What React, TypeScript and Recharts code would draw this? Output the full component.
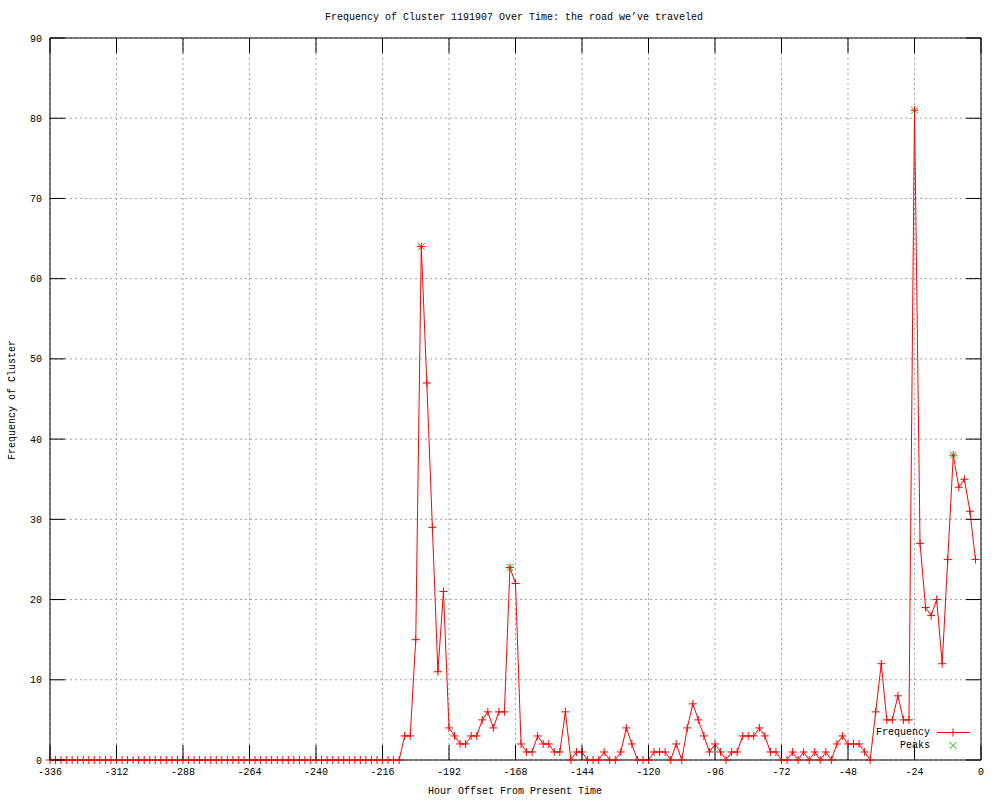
import React from "react";
import {
  ComposedChart,
  Line,
  XAxis,
  YAxis,
  CartesianGrid,
  ReferenceArea,
} from "recharts";

// hour offsets, 2h step, rows of 24h
const HOURS = [
  -336, -334, -332, -330, -328, -326, -324, -322, -320, -318, -316, -314,
  -312, -310, -308, -306, -304, -302, -300, -298, -296, -294, -292, -290,
  -288, -286, -284, -282, -280, -278, -276, -274, -272, -270, -268, -266,
  -264, -262, -260, -258, -256, -254, -252, -250, -248, -246, -244, -242,
  -240, -238, -236, -234, -232, -230, -228, -226, -224, -222, -220, -218,
  -216, -214, -212, -210, -208, -206, -204, -202, -200, -198, -196, -194,
  -192, -190, -188, -186, -184, -182, -180, -178, -176, -174, -172, -170,
  -168, -166, -164, -162, -160, -158, -156, -154, -152, -150, -148, -146,
  -144, -142, -140, -138, -136, -134, -132, -130, -128, -126, -124, -122,
  -120, -118, -116, -114, -112, -110, -108, -106, -104, -102, -100, -98,
  -96, -94, -92, -90, -88, -86, -84, -82, -80, -78, -76, -74,
  -72, -70, -68, -66, -64, -62, -60, -58, -56, -54, -52, -50,
  -48, -46, -44, -42, -40, -38, -36, -34, -32, -30, -28, -26,
  -24, -22, -20, -18, -16, -14, -12, -10, -8, -6, -4, -2,
];

const FREQUENCY = [
  0, 0, 0, 0, 0, 0, 0, 0, 0, 0, 0, 0,
  0, 0, 0, 0, 0, 0, 0, 0, 0, 0, 0, 0,
  0, 0, 0, 0, 0, 0, 0, 0, 0, 0, 0, 0,
  0, 0, 0, 0, 0, 0, 0, 0, 0, 0, 0, 0,
  0, 0, 0, 0, 0, 0, 0, 0, 0, 0, 0, 0,
  0, 0, 0, 0, 3, 3, 15, 64, 47, 29, 11, 21,
  4, 3, 2, 2, 3, 3, 5, 6, 4, 6, 6, 24,
  22, 2, 1, 1, 3, 2, 2, 1, 1, 6, 0, 1,
  1, 0, 0, 0, 1, 0, 0, 1, 4, 2, 0, 0,
  0, 1, 1, 1, 0, 2, 0, 4, 7, 5, 3, 1,
  2, 1, 0, 1, 1, 3, 3, 3, 4, 3, 1, 1,
  0, 0, 1, 0, 1, 0, 1, 0, 1, 0, 2, 3,
  2, 2, 2, 1, 0, 6, 12, 5, 5, 8, 5, 5,
  81, 27, 19, 18, 20, 12, 25, 38, 34, 35, 31, 25,
];

const PEAK_HOURS = [-202, -170, -24, -10];
const PEAK_VALUES = [64, 24, 81, 38];

const X_TICKS = [-336, -312, -288, -264, -240, -216, -192, -168, -144, -120, -96, -72, -48, -24, 0];
const Y_TICKS = [0, 10, 20, 30, 40, 50, 60, 70, 80, 90];

const data = HOURS.map((h, i) => {
  const p = PEAK_HOURS.indexOf(h);
  return { h, freq: FREQUENCY[i], peak: p >= 0 ? PEAK_VALUES[p] : null };
});

const FONT = "'Liberation Mono', 'DejaVu Sans Mono', monospace";
const RED = "#ff0000";
const GREEN = "#00c000";

// plot frame (px inside the svg)
const LEFT = 50;
const RIGHT = 981;
const TOP = 38;
const BOTTOM = 760;
const TIC = 15;

const Plus = ({ cx, cy, color }: any) => (
  <g>
    <line x1={cx - 4} y1={cy} x2={cx + 4} y2={cy} stroke={color} strokeWidth={1} />
    <line x1={cx} y1={cy - 4} x2={cx} y2={cy + 4} stroke={color} strokeWidth={1} />
  </g>
);

const Cross = ({ cx, cy, color }: any) => (
  <g>
    <line x1={cx - 3.5} y1={cy - 3.5} x2={cx + 3.5} y2={cy + 3.5} stroke={color} strokeWidth={1} />
    <line x1={cx - 3.5} y1={cy + 3.5} x2={cx + 3.5} y2={cy - 3.5} stroke={color} strokeWidth={1} />
  </g>
);

const XTick = ({ x, y, payload }: any) => (
  <g>
    <line x1={x} y1={BOTTOM} x2={x} y2={BOTTOM - TIC} stroke="#000" />
    <line x1={x} y1={TOP} x2={x} y2={TOP + TIC} stroke="#000" />
    <text x={x} y={y} dy="0.71em" textAnchor="middle" fontSize={10} fontFamily={FONT} fill="#000">
      {payload.value}
    </text>
  </g>
);

const YTick = ({ x, y, payload }: any) => (
  <g>
    <line x1={LEFT} y1={y} x2={LEFT + TIC} y2={y} stroke="#000" />
    <line x1={RIGHT} y1={y} x2={RIGHT - TIC} y2={y} stroke="#000" />
    <text x={x} y={y} dy="0.355em" textAnchor="end" fontSize={10} fontFamily={FONT} fill="#000">
      {payload.value}
    </text>
  </g>
);

const KeyBox = () => (
  <div style={{ fontFamily: FONT, fontSize: 10, lineHeight: "13px", color: "#000" }}>
    <div style={{ display: "flex", height: 13 }}>
      <span style={{ width: 60, textAlign: "right" }}>Frequency</span>
      <svg width={44} height={13}>
        <line x1={7} y1={6.5} x2={40} y2={6.5} stroke={RED} />
        <Plus cx={23} cy={6.5} color={RED} />
      </svg>
    </div>
    <div style={{ display: "flex", height: 13 }}>
      <span style={{ width: 60, textAlign: "right" }}>Peaks</span>
      <svg width={44} height={13}>
        <Cross cx={23} cy={6.5} color={GREEN} />
      </svg>
    </div>
  </div>
);

const textStyle: React.CSSProperties = {
  position: "absolute",
  whiteSpace: "nowrap",
  fontFamily: FONT,
  fontSize: 10,
  lineHeight: "12px",
  color: "#000",
};

export default function App() {
  return (
    <div style={{ position: "absolute", left: 0, top: 0, width: 1000, height: 800, background: "#fff" }}>
      <ComposedChart
        width={1000}
        height={800}
        data={data}
        margin={{ top: TOP, right: 1000 - RIGHT, bottom: 0, left: 0 }}
      >
        <CartesianGrid stroke="#a0a0a0" strokeDasharray="2 3" />
        <XAxis
          dataKey="h"
          type="number"
          domain={[-336, 0]}
          ticks={X_TICKS}
          height={800 - BOTTOM}
          axisLine={false}
          tickLine={false}
          tickSize={0}
          tickMargin={8}
          tick={<XTick />}
          interval={0}
        />
        <YAxis
          type="number"
          domain={[0, 90]}
          ticks={Y_TICKS}
          width={LEFT}
          axisLine={false}
          tickLine={false}
          tickSize={0}
          tickMargin={8}
          tick={<YTick />}
          interval={0}
        />
        <ReferenceArea x1={-336} x2={0} y1={0} y2={90} fill="none" stroke="#000" strokeOpacity={1} fillOpacity={0} />
        <Line
          dataKey="peak"
          stroke="none"
          isAnimationActive={false}
          connectNulls={false}
          legendType="none"
          dot={(p: any) =>
            p.payload.peak == null ? <g key={p.index} /> : <Cross key={p.index} cx={p.cx} cy={p.cy} color={GREEN} />
          }
          activeDot={false}
        />
        <Line
          dataKey="freq"
          stroke={RED}
          strokeWidth={1}
          type="linear"
          isAnimationActive={false}
          dot={(p: any) => <Plus key={p.index} cx={p.cx} cy={p.cy} color={RED} />}
          activeDot={false}
        />
      </ComposedChart>
      <div style={{ ...textStyle, left: 514, top: 12, transform: "translateX(-50%)" }}>
        Frequency of Cluster 1191907 Over Time: the road we’ve traveled
      </div>
      <div style={{ ...textStyle, left: 515, top: 786, transform: "translateX(-50%)" }}>
        Hour Offset From Present Time
      </div>
      <div style={{ ...textStyle, left: 13, top: 400, transform: "translate(-50%, -50%) rotate(-90deg)" }}>
        Frequency of Cluster
      </div>
      <div style={{ position: "absolute", left: 870, top: 726 }}>
        <KeyBox />
      </div>
    </div>
  );
}
